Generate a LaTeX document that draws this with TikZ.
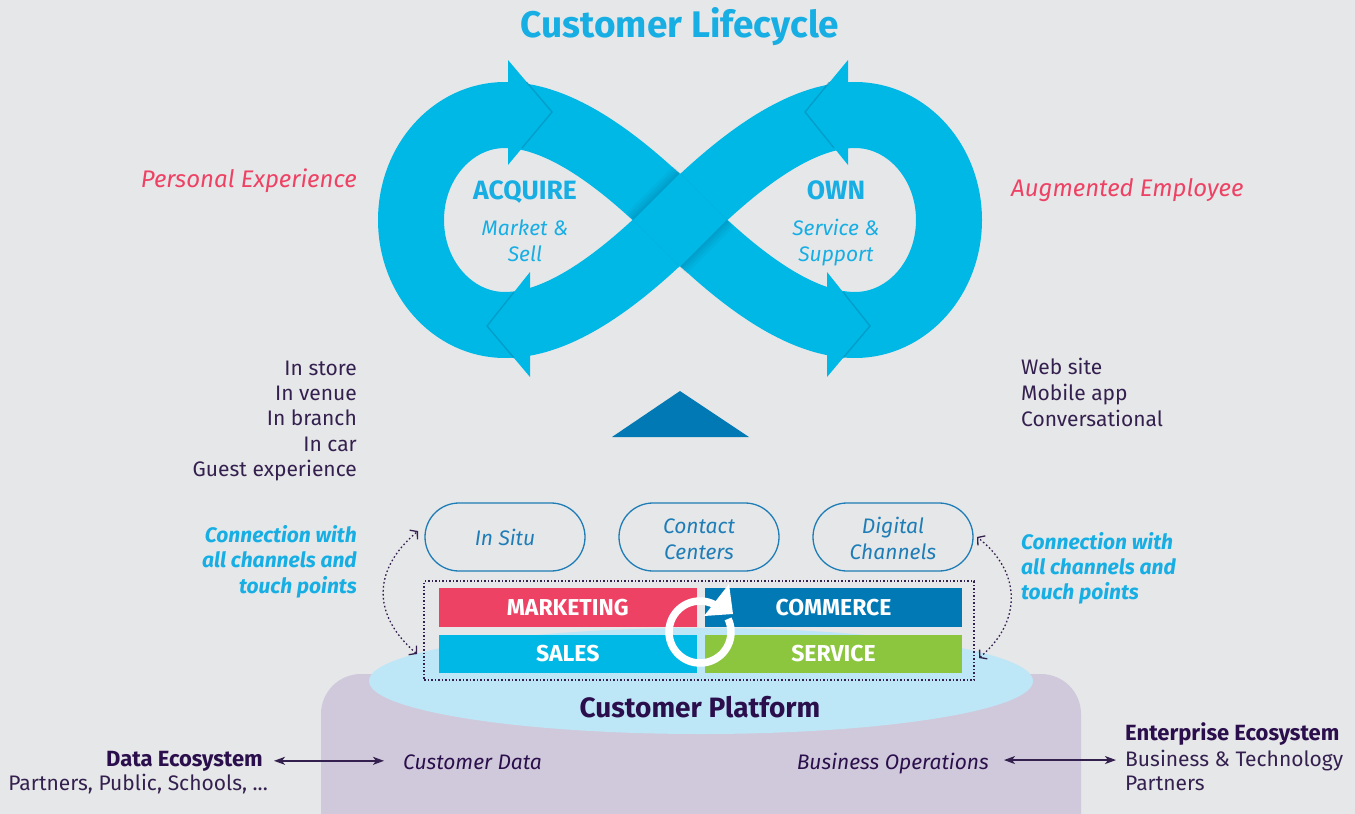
\documentclass[tikz,border=0pt]{standalone}
\usepackage{fontspec}
\setmainfont{Fira Sans}
\usetikzlibrary{arrows.meta,shapes.geometric}
\definecolor{bgc}{HTML}{E6E7E9}
\definecolor{bandc}{HTML}{00B8E6}
\definecolor{bandd}{HTML}{007FA8}
\definecolor{cyant}{HTML}{17AEE4}
\definecolor{pinkc}{HTML}{EE4264}
\definecolor{purp}{HTML}{34204E}
\definecolor{purpd}{HTML}{2B0F4C}
\definecolor{bluec}{HTML}{0079B5}
\definecolor{pillc}{HTML}{1E7DB6}
\definecolor{greenc}{HTML}{8CC63F}
\definecolor{ellc}{HTML}{BDE6F7}
\definecolor{platc}{HTML}{D0C9DB}
\begin{document}
\begin{tikzpicture}[x=1pt,y=-1pt,
  lbl/.style={inner sep=0pt, text=purp, font=\fontsize{21}{25}\selectfont},
  conn/.style={inner sep=0pt, text=cyant, font=\bfseries\itshape\fontsize{21}{25}\selectfont},
  emph/.style={inner sep=0pt, text=pinkc, font=\itshape\fontsize{24}{28}\selectfont},
  loophead/.style={inner sep=0pt, text=cyant, font=\bfseries\fontsize{26.5}{30}\selectfont},
  loopsub/.style={inner sep=0pt, text=cyant, font=\itshape\fontsize{21}{25}\selectfont},
  pill/.style={draw=pillc, line width=1.3pt, rounded corners=34pt, minimum width=160pt,
    minimum height=68pt, text=pillc, font=\itshape\fontsize{21}{26}\selectfont, align=center, inner sep=0pt},
  bar/.style={inner sep=0pt, minimum height=39pt, text=white, font=\bfseries\fontsize{23}{26}\selectfont},
  band/.style={draw=bandc, line width=66pt, line join=round},
  fold/.style={draw=bandd, line width=1.4pt, opacity=0.45},
  dotarr/.style={draw=purp, line width=1.3pt, dash pattern=on 1.6pt off 2.4pt,
    arrows={Straight Barb[length=5pt,width=12pt]-Straight Barb[length=5pt,width=12pt]}},
  biarr/.style={draw=purp, line width=1.4pt, arrows={Stealth[length=11pt,width=8pt,inset=3pt]-Stealth[length=11pt,width=8pt,inset=3pt]}}
]
\useasboundingbox (0,0) rectangle (1355,814);
\fill[bgc] (0,0) rectangle (1355,814);

% ---------- infinity band ----------
\draw[band] (680,220) .. controls (630,170) and (565,115) .. (505,115)
  .. controls (453,115) and (411,162) .. (411,220)
  .. controls (411,278) and (453,325) .. (505,325)
  .. controls (565,325) and (630,270) .. (680,220)
  .. controls (730,170) and (795,115) .. (855,115)
  .. controls (907,115) and (949,162) .. (949,220)
  .. controls (949,278) and (907,325) .. (855,325)
  .. controls (795,325) and (730,270) .. (680,220);
% shadow of the upper band at the crossing
\foreach \w/\o in {86/0.10,80/0.12,74/0.15,70/0.15}
  \draw[bandd, line width=\w pt, opacity=\o] (656.7,243.3) -- (703.3,196.7);
\draw[bandc, line width=66pt] (656.7,243.3) -- (703.3,196.7);

% arrow heads on the band
\fill[bandc] (508,60) -- (552,112) -- (508,165) -- cycle;
\draw[fold] (526.5,82) -- (552,112) -- (522,148);
\fill[bandc] (848,60) -- (805,112) -- (848,165) -- cycle;
\draw[fold] (829.5,82) -- (805,112) -- (834,148);
\fill[bandc] (530,272) -- (487,326) -- (530,377) -- cycle;
\draw[fold] (514,292) -- (487,326) -- (514,358);
\fill[bandc] (827,272) -- (870,326) -- (827,377) -- cycle;
\draw[fold] (843,292) -- (870,326) -- (843,358);

% ---------- title and loop texts ----------
\node[inner sep=0pt, text=cyant, font=\bfseries\fontsize{37}{42}\selectfont, anchor=base] (title) at (680,37) {Customer Lifecycle};
\node[loophead, anchor=base] (acq) at (525,199) {ACQUIRE};
\node[loopsub, anchor=base] (acq1) at (525,235.7) {Market \&};
\node[loopsub, anchor=base] (acq2) at (525,261) {Sell};
\node[loophead, anchor=base] (own) at (836,199) {OWN};
\node[loopsub, anchor=base] (own1) at (836,235.7) {Service \&};
\node[loopsub, anchor=base] (own2) at (836,261) {Support};

\node[emph, anchor=base east] (pers) at (357,187.3) {Personal Experience};
\node[emph, anchor=base west] (augm) at (1011,196.7) {Augmented Employee};

\node[lbl, anchor=base east] (l1) at (357,375) {In store};
\node[lbl, anchor=base east] (l2) at (357,400.7) {In venue};
\node[lbl, anchor=base east] (l3) at (357,425.7) {In branch};
\node[lbl, anchor=base east] (l4) at (357,451.7) {In car};
\node[lbl, anchor=base east] (l5) at (357,476.7) {Guest experience};

\node[lbl, anchor=base west] (r1) at (1021,374) {Web site};
\node[lbl, anchor=base west] (r2) at (1021,400.7) {Mobile app};
\node[lbl, anchor=base west] (r3) at (1021,426) {Conversational};

\fill[bluec] (612,437) -- (680,391) -- (749,437) -- cycle;

\node[conn, anchor=base east] (cl1) at (357,542) {Connection with};
\node[conn, anchor=base east] (cl2) at (357,567.5) {all channels and};
\node[conn, anchor=base east] (cl3) at (357,593) {touch points};
\node[conn, anchor=base west] (cr1) at (1021,549) {Connection with};
\node[conn, anchor=base west] (cr2) at (1021,574) {all channels and};
\node[conn, anchor=base west] (cr3) at (1021,599) {touch points};

% ---------- platform ----------
\fill[platc, rounded corners=40pt] (321,674) rectangle (1081,860);
\node[ellipse, fill=ellc, minimum width=664pt, minimum height=106pt, inner sep=0pt] (plat) at (701,681) {};
\node[inner sep=0pt, text=purpd, font=\bfseries\fontsize{28}{32}\selectfont, anchor=base] (platl) at (700,717) {Customer Platform};

% ---------- channels ----------
\node[pill] (insitu) at (505,537) {In Situ};
\node[pill] (contact) at (699,537) {\rule{0pt}{19pt}Contact\\Centers};
\node[pill] (digital) at (893,537) {\rule{0pt}{19pt}Digital\\Channels};

% ---------- functions ----------
\node[bar, fill=pinkc, minimum width=258.5pt] (mkt) at (567.75,607.5) {MARKETING};
\node[bar, fill=bluec, minimum width=257pt] (com) at (833.5,607.5) {COMMERCE};
\node[bar, fill=bandc, minimum width=258.5pt, minimum height=38pt] (sal) at (567.75,654) {SALES};
\node[bar, fill=greenc, minimum width=257pt, minimum height=38pt] (ser) at (833.5,654) {SERVICE};
\node[draw=purp, line width=1.2pt, dash pattern=on 1.5pt off 2pt, minimum width=550pt, minimum height=99pt, inner sep=0pt] (sysbox) at (699,630.5) {};

\draw[white, line width=7.5pt] (700,632) ++(-25:31) arc[start angle=-25, end angle=298, radius=31];
\fill[white] (704,616) -- (729,584) -- (733,614) -- cycle;

% ---------- dotted connectors ----------
\coordinate (la1) at (418,531);
\coordinate (la2) at (417,654);
\coordinate (ra1) at (977,537);
\coordinate (ra2) at (979,658);
\draw[dotarr] (la2) .. controls (372,615) and (372,570) .. (la1);
\draw[dotarr] (ra2) .. controls (1022,622) and (1022,572) .. (ra1);

% ---------- bottom ----------
\node[inner sep=0pt, text=purpd, font=\itshape\fontsize{21}{24}\selectfont, anchor=base west] (cdata) at (403,769) {Customer Data};
\node[inner sep=0pt, text=purpd, font=\itshape\fontsize{21}{24}\selectfont, anchor=base east] (bops) at (989,769) {Business Operations};
\node[lbl, text=purpd, font=\bfseries\fontsize{22}{25}\selectfont, anchor=base east] (deco) at (263,766) {Data Ecosystem};
\node[lbl, anchor=base east] (deco2) at (268,790.7) {Partners, Public, Schools, ...};
\node[lbl, text=purpd, font=\bfseries\fontsize{22}{25}\selectfont, anchor=base west] (eeco) at (1125,740) {Enterprise Ecosystem};
\node[lbl, anchor=base west] (eeco2) at (1125,766) {Business \& Technology};
\node[lbl, anchor=base west] (eeco3) at (1125,790) {Partners};

\draw[biarr] ([xshift=11pt]deco.east) -- ([xshift=-19pt]cdata.west |- deco.east);
\draw[biarr] ([xshift=15pt]bops.east |- eeco2.west) -- ([xshift=-9pt]eeco2.west);
\end{tikzpicture}
\end{document}
